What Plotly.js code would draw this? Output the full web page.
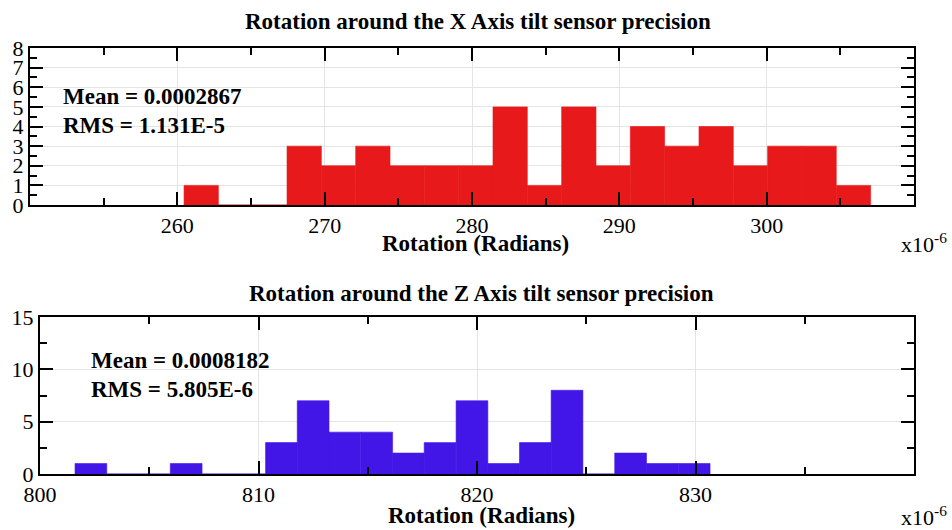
<!DOCTYPE html>
<html>
<head>
<meta charset="utf-8">
<script src="https://cdn.plot.ly/plotly-3.0.1.min.js"></script>
<style>html,body{margin:0;padding:0;background:#fff;}#chart{width:952px;height:530px;}</style>
</head>
<body>
<div id="chart"></div>
<script>
// ---- data (x values in units of 1e-6 rad) ----
const xBinCenters = [261.62, 263.95, 266.28, 268.61, 270.94, 273.27, 275.60, 277.93, 280.26, 282.59,
                     284.92, 287.25, 289.58, 291.91, 294.24, 296.57, 298.90, 301.23, 303.56, 305.89];
const xCounts     = [1, 0, 0, 3, 2, 3, 2, 2, 2, 5, 1, 5, 2, 4, 3, 4, 2, 3, 3, 1];
const zBinCenters = [802.33, 803.78, 805.23, 806.69, 808.14, 809.59, 811.05, 812.50, 813.95, 815.41,
                     816.86, 818.31, 819.77, 821.22, 822.67, 824.12, 825.58, 827.03, 828.48, 829.94];
const zCounts     = [1, 0, 0, 1, 0, 0, 3, 7, 4, 4, 2, 3, 7, 1, 3, 8, 0, 2, 1, 1];
const xTickVals = [260, 270, 280, 290, 300];
const xMinorVals = [255, 265, 275, 285, 295, 305];
const zTickVals = [800, 810, 820, 830];
const zMinorVals = [805, 815, 825, 835];
const titles = ["Rotation around the X Axis tilt sensor precision", "Rotation around the Z Axis tilt sensor precision"];
const xTitle = "Rotation (Radians)";
const statsX = ["Mean = 0.0002867", "RMS = 1.131E-5"];
const statsZ = ["Mean = 0.0008182", "RMS = 5.805E-6"];
const xBinWidth = 2.33, zBinWidth = 1.453;

const W = 952, H = 530;
const px = v => v / W, py = v => 1 - v / H;
const FONT = "Liberation Serif, Times New Roman, serif";

const traces = [
  {type: 'bar', x: xBinCenters, y: xCounts, width: xBinWidth, xaxis: 'x', yaxis: 'y',
   marker: {color: '#e8191a', line: {color: '#e8191a', width: 0.6}}, hoverinfo: 'x+y'},
  {type: 'bar', x: zBinCenters, y: zCounts, width: zBinWidth, xaxis: 'x2', yaxis: 'y2',
   marker: {color: '#4216e6', line: {color: '#4216e6', width: 0.6}}, hoverinfo: 'x+y'}
];

const axBase = {
  showline: true, linecolor: '#000', linewidth: 2, mirror: 'allticks',
  ticks: 'inside', ticklen: 13, tickwidth: 2, tickcolor: '#000',
  showgrid: true, gridcolor: '#e4e4e4', gridwidth: 1, zeroline: false,
  tickfont: {family: FONT, size: 22, color: '#000'}, automargin: false, fixedrange: true
};

function ann(text, x, y, size, xanchor) {
  return {text: text, x: px(x), y: py(y), xref: 'paper', yref: 'paper', xanchor: xanchor || 'center',
          yanchor: 'middle', showarrow: false, font: {family: FONT, size: size, color: '#000'}};
}

const layout = {
  width: W, height: H, margin: {l: 0, r: 0, t: 0, b: 0},
  paper_bgcolor: '#fff', plot_bgcolor: '#fff', showlegend: false, bargap: 0,
  xaxis: Object.assign({}, axBase, {
    domain: [px(30), px(914)], anchor: 'y', range: [250, 310],
    tickmode: 'array', tickvals: xTickVals,
    minor: {tickmode: 'array', tickvals: xMinorVals, ticks: 'inside', ticklen: 7, tickwidth: 2, tickcolor: '#000', showgrid: false}
  }),
  yaxis: Object.assign({}, axBase, {
    domain: [py(205), py(48)], anchor: 'x', range: [0, 8],
    tickmode: 'linear', tick0: 0, dtick: 1,
    minor: {dtick: 0.5, ticks: 'inside', ticklen: 7, tickwidth: 2, tickcolor: '#000', showgrid: false}
  }),
  xaxis2: Object.assign({}, axBase, {
    domain: [px(40), px(914)], anchor: 'y2', range: [800, 840],
    tickmode: 'array', tickvals: zTickVals,
    minor: {tickmode: 'array', tickvals: zMinorVals, ticks: 'inside', ticklen: 7, tickwidth: 2, tickcolor: '#000', showgrid: false}
  }),
  yaxis2: Object.assign({}, axBase, {
    domain: [py(474), py(317)], anchor: 'x2', range: [0, 15],
    tickmode: 'linear', tick0: 0, dtick: 5,
    minor: {dtick: 2.5, ticks: 'inside', ticklen: 7, tickwidth: 2, tickcolor: '#000', showgrid: false}
  }),
  annotations: [
    ann('<b>' + titles[0] + '</b>', 478, 22, 23),
    ann('<b>' + titles[1] + '</b>', 481, 293, 23),
    ann('<b>' + xTitle + '</b>', 475, 243, 23),
    ann('<b>' + xTitle + '</b>', 481, 515, 23),
    ann('<b>' + statsX[0] + '</b>', 61, 97, 23, 'left'),
    ann('<b>' + statsX[1] + '</b>', 61, 125, 23, 'left'),
    ann('<b>' + statsZ[0] + '</b>', 89, 360, 23, 'left'),
    ann('<b>' + statsZ[1] + '</b>', 89, 389, 23, 'left'),
    ann('x10<sup>-6</sup>', 949, 243, 22, 'right'),
    ann('x10<sup>-6</sup>', 949, 516, 22, 'right')
  ]
};

Plotly.newPlot('chart', traces, layout, {staticPlot: true, displayModeBar: false});
</script>
</body>
</html>
